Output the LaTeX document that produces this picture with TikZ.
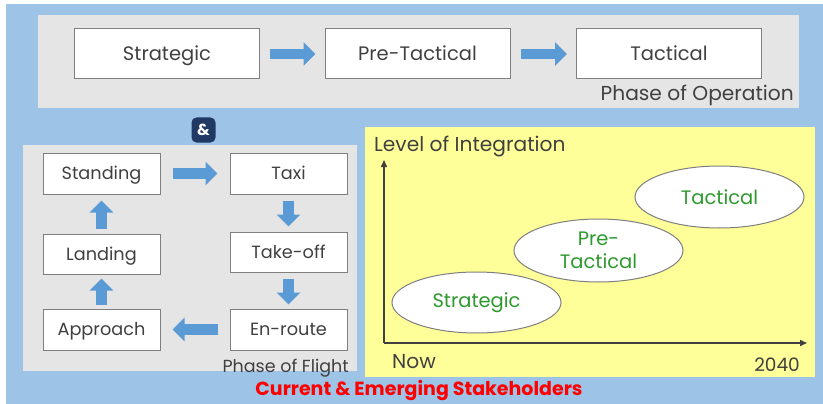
\documentclass[tikz,border=0pt]{standalone}
\usepackage{fontspec}
\setmainfont{Poppins}
\usetikzlibrary{arrows.meta,shapes.geometric}
\definecolor{skyblue}{HTML}{9DC3E6}
\definecolor{panelgrey}{HTML}{E5E5E5}
\definecolor{chartyellow}{HTML}{FFFF99}
\definecolor{flowblue}{HTML}{5B9BD5}
\definecolor{boxline}{HTML}{7F7F7F}
\definecolor{inkgrey}{HTML}{404040}
\definecolor{levelgreen}{HTML}{2E9A2E}
\definecolor{badgenavy}{HTML}{1F3864}
\tikzset{
  phasebox/.style={draw=boxline, fill=white, line width=1pt, inner sep=0pt,
    text=inkgrey, text depth=0pt},
  opbox/.style={phasebox, minimum width=185pt, minimum height=50pt,
    text height=14pt, font=\fontsize{19.5}{22}\selectfont},
  flightbox/.style={phasebox, minimum width=117pt, minimum height=41pt,
    text height=12.6pt, font=\fontsize{17.7}{20}\selectfont},
  blockarrow/.style={flowblue, line width=10pt,
    -{Triangle[length=12pt,width=23pt]}},
  levelblob/.style={ellipse, draw=boxline, fill=white, line width=1pt,
    minimum width=169pt, minimum height=61pt, inner sep=0pt,
    text=levelgreen, align=center, font=\fontsize{19.5}{23}\selectfont},
  panellabel/.style={text=inkgrey, inner sep=0pt, font=\fontsize{20.2}{22}\selectfont},
}
\begin{document}
\begin{tikzpicture}[x=1pt,y=-1pt]
  \useasboundingbox (0,0) rectangle (823,404);
  % panels
  \fill[skyblue] (6,4) rectangle (823,404);
  \fill[panelgrey] (38,15) rectangle (799,108);
  \fill[panelgrey] (23,145) rectangle (357,371);
  \fill[chartyellow] (365,127) rectangle (815,377);
  % phase of operation
  \draw
    (167,54) node[opbox] (strat){Strategic}
    (417.5,54) node[opbox] (pretac){Pre-Tactical}
    (669,54) node[opbox] (tac){Tactical};
  \draw[blockarrow, shorten <=10pt, shorten >=9pt] (strat) -- (pretac);
  \draw[blockarrow, shorten <=10pt, shorten >=9pt] (pretac) -- (tac);
  \node[panellabel, anchor=base east] (oplabel) at (794,101) {Phase of Operation};
  % phase of flight
  \draw
    (101.5,173.5) node[flightbox] (stand){Standing}
    (288.5,173.5) node[flightbox] (taxi){Taxi}
    (288.5,252) node[flightbox, minimum height=40pt] (takeoff){Take-off}
    (288.5,329.5) node[flightbox] (enroute){En-route}
    (101.5,329.5) node[flightbox] (appr){Approach}
    (101.5,254) node[flightbox, minimum height=40pt] (land){Landing};
  \begin{scope}[blockarrow, line width=11pt]
    \draw[shorten <=12pt, shorten >=12pt] (stand) -- (taxi);
    \draw[shorten <=6pt, shorten >=5pt] (taxi) -- (takeoff);
    \draw[shorten <=6pt, shorten >=4pt] (takeoff) -- (enroute);
    \draw[shorten <=12pt, shorten >=12pt] (enroute) -- (appr);
    \draw[shorten <=4pt, shorten >=4pt] (appr) -- (land);
    \draw[shorten <=5pt, shorten >=6pt] (land) -- (stand);
  \end{scope}
  \node[panellabel, anchor=base east, font=\fontsize{17.5}{20}\selectfont] (flightlabel)
    at (349,372) {Phase of Flight};
  \node[fill=badgenavy, rounded corners=5pt, minimum width=24pt, minimum height=25pt,
    inner sep=0pt, text=white, font=\bfseries\fontsize{16}{18}\selectfont] (amp)
    at (203.5,130) {\&};
  % level of integration
  \coordinate (origin) at (384,343);
  \coordinate (ytop) at (384,160);
  \coordinate (xend) at (807,343);
  \draw[inkgrey, line width=1.5pt, -{Triangle[length=7pt,width=6pt]}] (origin) -- (ytop);
  \draw[inkgrey, line width=1.5pt, -{Triangle[length=7pt,width=6pt]}] (origin) -- (xend);
  \node[panellabel, anchor=base west] (ylabel) at (374,152) {Level of Integration};
  \node[panellabel, anchor=base west] (now) at (392,368) {Now};
  \node[panellabel, anchor=base east, font=\fontsize{18.5}{20}\selectfont] (year)
    at (800,371) {2040};
  \draw
    (476.5,302.5) node[levelblob] (lstrat){Strategic}
    (598.5,250.5) node[levelblob, minimum height=63pt] (lpretac){Pre-\\Tactical}
    (719.5,197) node[levelblob, minimum height=62pt] (ltac){Tactical};
  \node[text=red, inner sep=0pt, font=\bfseries\fontsize{19}{21}\selectfont, anchor=base]
    (stake) at (419,395) {Current \& Emerging Stakeholders};
\end{tikzpicture}
\end{document}
